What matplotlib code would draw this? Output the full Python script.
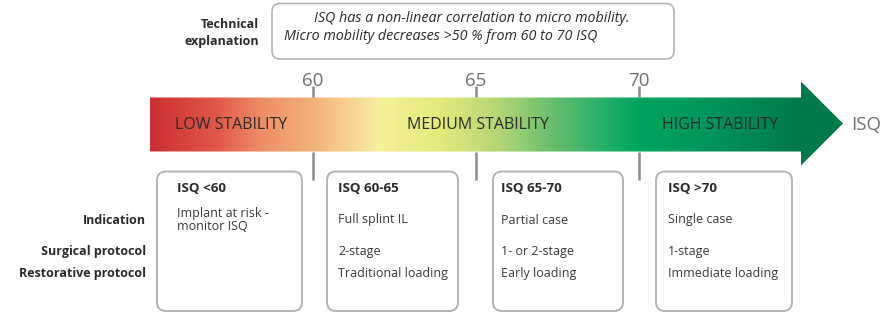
import matplotlib.pyplot as plt
import numpy as np
from matplotlib.patches import FancyBboxPatch, Polygon
from matplotlib.colors import LinearSegmentedColormap

plt.rcParams['font.family'] = ['Open Sans', 'DejaVu Sans']

# data
tick_values = [60, 65, 70]
zone_labels = ['LOW STABILITY', 'MEDIUM STABILITY', 'HIGH STABILITY']
zone_centers = [57.5, 65.05, 72.5]
row_labels = ['Indication', 'Surgical protocol', 'Restorative protocol']
box_titles = ['ISQ <60', 'ISQ 60-65', 'ISQ 65-70', 'ISQ >70']
indication = ['Implant at risk -\nmonitor ISQ', 'Full splint IL', 'Partial case', 'Single case']
surgical = ['', '2-stage', '1- or 2-stage', '1-stage']
restorative = ['', 'Traditional loading', 'Early loading', 'Immediate loading']
explanation = ['ISQ has a non-linear correlation to micro mobility.',
               'Micro mobility decreases >50 % from 60 to 70 ISQ']

# gradient stops along the arrow (fraction of length, colour)
grad_pos = [0.0, 0.094, 0.159, 0.235, 0.303, 0.332, 0.418, 0.505, 0.577, 0.649, 0.707, 0.794, 0.938, 1.0]
grad_col = ['#cc3033', '#e0574a', '#ee8e66', '#f2b27a', '#f7dd9a', '#f6f29a',
            '#e3ea7a', '#b2d676', '#6cbf6d', '#2bb06a', '#00a55e', '#00985a', '#007a48', '#007a48']

W, H = 892, 316
PPU = 163 / 5.0   # pixels per ISQ unit, 60 sits at x=313

fig = plt.figure(figsize=(W / 100, H / 100), dpi=100)
# layout axes in pixels
lay = fig.add_axes([0, 0, 1, 1])
lay.set_xlim(0, W)
lay.set_ylim(H, 0)
lay.axis('off')
# ISQ scale axes on top
ax = fig.add_axes([0, 0, 1, 1])
ax.set_xlim(60 - 313 / PPU, 60 + (W - 313) / PPU)
ax.set_ylim(H, 0)
ax.axis('off')
ax.patch.set_alpha(0)

gray = '#8c8c8c'
dark = '#2a2a2a'
edge = '#b3b3b3'

# arrow with gradient
arrow = [(150, 97.5), (801, 97.5), (801, 81.5), (843, 123.5),
         (801, 165.5), (801, 151.5), (150, 151.5)]
poly = Polygon(arrow, closed=True, facecolor='none', edgecolor='none')
lay.add_patch(poly)
cmap = LinearSegmentedColormap.from_list('isq', list(zip(grad_pos, grad_col)))
grad = np.linspace(0, 1, 600).reshape(1, -1)
im = lay.imshow(grad, cmap=cmap, aspect='auto', extent=[150, 843, 166, 81], interpolation='bilinear')
im.set_clip_path(poly)

# ticks on the ISQ scale
for v in tick_values:
    ax.plot([v, v], [86, 97], color=gray, lw=1.8, solid_capstyle='butt')
    ax.plot([v, v], [152, 180], color=gray, lw=1.8, solid_capstyle='butt')
    ax.text(v, 81, str(v), ha='center', va='center', fontsize=13.5, color='#707070')

for lab, c in zip(zone_labels, zone_centers):
    ax.text(c, 125, lab, ha='center', va='center', fontsize=11.5, color=dark)
lay.text(851, 125, 'ISQ', ha='left', va='center', fontsize=13.5, color='#707070')

# technical explanation
lay.text(259, 24, 'Technical', ha='right', va='center', fontsize=9, fontweight='bold', color=dark)
lay.text(259, 41, 'explanation', ha='right', va='center', fontsize=9, fontweight='bold', color=dark)
top = FancyBboxPatch((272, 3.5), 402, 55.5, boxstyle='round,pad=0,rounding_size=8',
                     facecolor='white', edgecolor=edge, lw=1.2)
lay.add_patch(top)
lay.text(472, 19, explanation[0], ha='center', va='center', fontsize=10.3, style='italic', color=dark)
lay.text(441, 37, explanation[1], ha='center', va='center', fontsize=10.3, style='italic', color=dark)

# row labels
row_y = [220, 251, 274]
for lab, y in zip(row_labels, row_y):
    lay.text(146, y, lab, ha='right', va='center', fontsize=9, fontweight='bold', color=dark)

# boxes
box_left = [157, 327, 493, 656]
box_right = [302, 458, 623, 792]
text_x = [177, 338, 501, 668]
for i in range(4):
    l, r = box_left[i], box_right[i]
    b = FancyBboxPatch((l, 171.5), r - l, 139.5, boxstyle='round,pad=0,rounding_size=9',
                       facecolor='white', edgecolor=edge, lw=1.4)
    lay.add_patch(b)
    tx = text_x[i]
    lay.text(tx, 189, box_titles[i], ha='left', va='center', fontsize=9.6, fontweight='bold', color=dark)
    lay.text(tx, 220, indication[i], ha='left', va='center', fontsize=9, color='#3a3a3a', linespacing=0.95)
    lay.text(tx, 251, surgical[i], ha='left', va='center', fontsize=9, color='#3a3a3a')
    lay.text(tx, 274, restorative[i], ha='left', va='center', fontsize=9, color='#3a3a3a')

fig.savefig('out.png', dpi=100)
